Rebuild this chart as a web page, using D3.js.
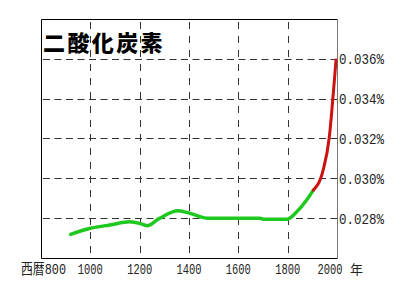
<!DOCTYPE html>
<html>
<head>
<meta charset="utf-8">
<script src="https://cdn.jsdelivr.net/npm/d3@7"></script>
<style>
  body { margin: 0; background: #fff; }
  svg { display: block; }
</style>
</head>
<body>
<div id="chart"></div>
<script>
// CO2 concentration (%) by year
var greenYears = [920, 1000, 1080, 1160, 1200, 1230, 1280, 1357, 1404, 1472, 1560, 1688, 1700, 1796, 1837, 1877, 1904];
var greenVals = [0.02719, 0.02749, 0.02766, 0.02782, 0.02774, 0.02762, 0.02799, 0.02837, 0.02824, 0.02800, 0.02800, 0.02800, 0.02795, 0.02794, 0.02832, 0.02891, 0.02941];
var redYears = [1904, 1944, 1969, 1985, 1996];
var redVals = [0.02941, 0.03042, 0.03209, 0.03427, 0.03594];

var xTicks = [1000, 1200, 1400, 1600, 1800];
var yTicks = [0.028, 0.030, 0.032, 0.034, 0.036];
var xLabels = ["西暦800", "1000", "1200", "1400", "1600", "1800", "2000"];
var xLabelYears = [800, 1000, 1200, 1400, 1600, 1800, 2000];
var yLabels = ["0.028%", "0.030%", "0.032%", "0.034%", "0.036%"];
var title = "二酸化炭素";

(function () {
    var W = 402, H = 286;
    var pl = 41, pr = 337, pt = 19, pb = 258;

    var svg = d3.select("#chart").append("svg")
        .attr("width", W).attr("height", H);

    var x = d3.scaleLinear().domain([800, 2000]).range([pl, pr]);
    var y = d3.scaleLinear().domain([0.026, 0.038]).range([pb, pt]);

    // grid
    svg.selectAll(".vgrid").data(xTicks).enter().append("line")
        .attr("x1", function (d) { return Math.round(x(d)) + 0.5; })
        .attr("x2", function (d) { return Math.round(x(d)) + 0.5; })
        .attr("y1", pt + 3).attr("y2", pb)
        .attr("stroke", "#333").attr("stroke-dasharray", "7,7");
    svg.selectAll(".hgrid").data(yTicks).enter().append("line")
        .attr("y1", function (d) { return Math.round(y(d)) + 0.5; })
        .attr("y2", function (d) { return Math.round(y(d)) + 0.5; })
        .attr("x1", pl + 2).attr("x2", pr)
        .attr("stroke", "#333").attr("stroke-dasharray", "7,4.5");

    // frame
    svg.append("path")
        .attr("d", "M" + (pr + 0.5) + "," + (pt + 0.5) + "H" + (pl + 0.5) + "V" + (pb + 0.5) + "H" + (pr + 0.5))
        .attr("fill", "none").attr("stroke", "#000");
    svg.append("line")
        .attr("x1", pr + 0.5).attr("x2", pr + 0.5)
        .attr("y1", pt).attr("y2", pb + 1)
        .attr("stroke", "#777");

    // lines
    var line = d3.line()
        .x(function (d) { return x(d[0]); })
        .y(function (d) { return y(d[1]); })
        .curve(d3.curveMonotoneX);

    svg.append("path")
        .attr("d", line(d3.zip(greenYears, greenVals)))
        .attr("fill", "none").attr("stroke", "#1ec81e").attr("stroke-width", 3.5)
        .attr("stroke-linecap", "round").attr("stroke-linejoin", "round");
    svg.append("path")
        .attr("d", line(d3.zip(redYears, redVals)))
        .attr("fill", "none").attr("stroke", "#cc1111").attr("stroke-width", 3)
        .attr("stroke-linecap", "round").attr("stroke-linejoin", "round");

    // title
    svg.append("text")
        .attr("x", pl + 2).attr("y", 51)
        .attr("font-family", "'Noto Sans CJK JP'")
        .attr("font-weight", 900)
        .attr("font-size", 22)
        .attr("letter-spacing", 2.4)
        .attr("fill", "#000")
        .text(title);

    // right tick labels
    svg.selectAll(".ylab").data(yTicks).enter().append("text")
        .attr("x", pr + 2)
        .attr("y", function (d) { return y(d) + 5.5; })
        .attr("font-family", "'Liberation Mono', monospace")
        .attr("font-size", 15)
        .attr("textLength", 45)
        .attr("lengthAdjust", "spacingAndGlyphs")
        .attr("fill", "#222")
        .text(function (d, i) { return yLabels[i]; });

    // bottom tick labels
    svg.selectAll(".xlab").data(xLabelYears).enter().append("text")
        .attr("x", function (d, i) {
            if (i === 0) return x(d) + 25;
            if (i === xLabelYears.length - 1) return x(d) - 7;
            return x(d);
        })
        .attr("y", 274)
        .attr("text-anchor", function (d, i) { return i === 0 ? "end" : "middle"; })
        .attr("font-family", "'Liberation Mono', 'Noto Sans CJK JP', monospace")
        .attr("font-size", 15)
        .attr("textLength", function (d, i) { return i === 0 ? 45 : 25; })
        .attr("lengthAdjust", "spacingAndGlyphs")
        .attr("fill", "#222")
        .text(function (d, i) { return xLabels[i]; });

    svg.append("text")
        .attr("x", 350).attr("y", 274)
        .attr("font-family", "'Noto Sans CJK JP'")
        .attr("font-size", 13)
        .attr("fill", "#222")
        .text("年");
})();
</script>
</body>
</html>
